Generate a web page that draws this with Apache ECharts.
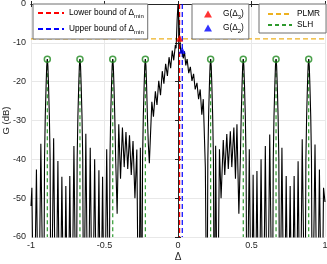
<!DOCTYPE html>
<html><head><meta charset="utf-8">
<script src="https://cdn.jsdelivr.net/npm/echarts@6/dist/echarts.min.js"></script>
<style>html,body{margin:0;padding:0;background:#fff}#c{width:327px;height:264px}</style>
</head><body><div id="c"></div>
<script>
// ---- data ----
const delta = [
 -1.000,-0.994,-0.981,-0.963,-0.949,-0.933,-0.914,
 -0.908,-0.903,-0.897,-0.893,-0.889,-0.885,-0.881,-0.875,-0.870,-0.864,
 -0.846,-0.832,-0.817,-0.803,-0.790,-0.775,-0.763,-0.749,-0.736,-0.723,-0.708,-0.692,
 -0.686,-0.681,-0.675,-0.671,-0.667,-0.663,-0.659,-0.653,-0.648,-0.642,
 -0.627,-0.612,-0.597,-0.582,-0.567,-0.552,-0.538,-0.526,-0.513,-0.500,-0.485,-0.469,
 -0.463,-0.458,-0.452,-0.448,-0.444,-0.440,-0.436,-0.430,-0.424,-0.414,
 -0.403,-0.391,-0.378,-0.366,-0.354,-0.342,-0.330,-0.318,-0.306,-0.293,-0.280,-0.268,-0.256,-0.247,
 -0.241,-0.236,-0.230,-0.226,-0.222,-0.218,-0.214,-0.208,-0.202,-0.195,
 -0.178,-0.167,-0.154,-0.143,-0.131,-0.119,-0.107,-0.096,-0.084,-0.072,-0.061,-0.050,-0.039,-0.029,-0.018,-0.013,-0.006,0.000,
 0.006,0.011,0.020,0.028,0.036,0.044,0.053,0.062,0.073,0.084,0.095,0.106,0.117,0.129,0.140,0.151,0.162,0.172,0.186,0.197,
 0.203,0.208,0.214,0.218,0.222,0.226,0.230,0.236,0.241,0.247,
 0.256,0.268,0.282,0.293,0.308,0.318,0.332,0.342,0.356,0.366,0.380,0.391,0.401,0.414,
 0.424,0.430,0.436,0.440,0.444,0.448,0.452,0.458,0.463,0.469,
 0.485,0.500,0.511,0.524,0.537,0.551,0.565,0.580,0.594,0.609,0.624,0.642,
 0.648,0.653,0.659,0.663,0.667,0.671,0.675,0.681,0.686,0.692,
 0.707,0.722,0.736,0.749,0.763,0.776,0.790,0.804,0.817,0.831,0.845,0.864,
 0.870,0.875,0.881,0.885,0.889,0.893,0.897,0.903,0.908,0.914,
 0.932,0.948,0.962,0.979,0.990,1.000
];
const gain = [
 -52,-47.3,-90,-42.6,-90,-36,-90,
 -40,-29,-20.5,-16,-14.2,-16,-20.5,-29,-40,-90,
 -34.6,-90,-40.4,-90,-44.5,-90,-46.9,-90,-44.3,-90,-36.6,-90,
 -40,-29,-20.5,-16,-14.2,-16,-20.5,-29,-40,-90,
 -33.4,-90,-37,-90,-40,-90,-42.8,-90,-44.5,-90,-37.4,-90,
 -40,-29,-20.5,-16,-14.2,-16,-20.5,-29,-40,-54,
 -31,-45,-31.8,-42,-33,-42.5,-33.8,-44,-35.3,-50,-37.5,-90,-37,-90,
 -40,-29,-20.5,-16,-14.2,-16,-20.5,-29,-36,-41,
 -25.2,-29,-22.5,-26,-19.8,-23.5,-17.3,-20.5,-15.4,-18.5,-13.7,-16.5,-12,-14.5,-10.6,-11.4,-4.2,0,
 -4.2,-8.8,-12.6,-11.9,-14,-12.2,-15.8,-14.2,-17.8,-16.2,-19.8,-18,-22,-20.3,-24.5,-22,-28.5,-24.5,-42,-90,
 -40,-29,-20.5,-16,-14.2,-16,-20.5,-29,-40,-90,
 -36.5,-90,-37.4,-50,-35,-44,-33.5,-42.5,-32.8,-42,-31.8,-45,-31,-54,
 -40,-29,-20.5,-16,-14.2,-16,-20.5,-29,-40,-90,
 -37.4,-90,-44,-90,-43,-90,-40,-90,-36.6,-90,-33.6,-90,
 -40,-29,-20.5,-16,-14.2,-16,-20.5,-29,-40,-90,
 -37,-90,-44.3,-90,-46.9,-90,-44.3,-90,-40.5,-90,-34.8,-90,
 -40,-29,-20.5,-16,-14.2,-16,-20.5,-29,-40,-90,
 -36.2,-90,-42.6,-90,-47.3,-51
];
const lobeDelta = [-0.889,-0.667,-0.444,-0.222,0.222,0.444,0.667,0.889];
const lobeGain  = [-14.2,-14.2,-14.2,-14.2,-14.2,-14.2,-14.2,-14.2];
const g3Point = [0.011, -8.8];
const g2Point = [0.028, -11.9];
const deltaMinLower = 0.011;
const deltaMinUpper = 0.029;
const plmrLevel = -9;
const legendLabels = {
  lower: '{t|Lower bound of Δ}{s|min}',
  upper: '{t|Upper bound of Δ}{s|min}',
  G3: '{g|}{t|G(Δ}{s|3}{t|)}',
  G2: '{g|}{t|G(Δ}{s|2}{t|)}',
  PLMR: '{t|PLMR}',
  SLH: '{t|SLH}'
};

const FONT = '"Liberation Sans", Arial, Helvetica, sans-serif';
const AX = '#262626';
const chart = echarts.init(document.getElementById('c'), null, {renderer: 'canvas'});

const curve = delta.map((d, i) => [d, gain[i]]);
const series = [];
lobeDelta.forEach((d, i) => series.push({
  name: 'SLH', type: 'line', data: [[d, lobeGain[i]], [d, -60]], symbol: 'none',
  lineStyle: {color: '#2e9a2e', width: 1.2, type: [4, 3]}, z: 3, silent: true, animation: false
}));
series.push({name: 'PLMR', type: 'line', data: [[-1, plmrLevel], [1, plmrLevel]], symbol: 'none',
  lineStyle: {color: '#EDB120', width: 1.2, type: [5, 3]}, z: 2, silent: true, animation: false});
series.push({name: 'lower', type: 'line', data: [[deltaMinLower, 0], [deltaMinLower, -60]], symbol: 'none',
  lineStyle: {color: '#ff0000', width: 1.2, type: [5, 3]}, z: 4, silent: true, animation: false});
series.push({name: 'upper', type: 'line', data: [[deltaMinUpper, 0], [deltaMinUpper, -60]], symbol: 'none',
  lineStyle: {color: '#0000ff', width: 1.2, type: [5, 3]}, z: 4, silent: true, animation: false});
series.push({name: 'G', type: 'line', data: curve, symbol: 'none', clip: true,
  lineStyle: {color: '#000', width: 1.1}, z: 5, silent: true, animation: false});
series.push({name: 'lobes', type: 'scatter', data: lobeDelta.map((d, i) => [d, lobeGain[i]]),
  symbol: 'circle', symbolSize: 6, itemStyle: {color: 'rgba(0,0,0,0)', borderColor: '#1f8a1f', borderWidth: 1.5},
  z: 6, silent: true, animation: false});
series.push({name: 'G3', type: 'scatter', data: [g3Point], symbol: 'triangle', symbolSize: 7,
  itemStyle: {color: '#ff0000'}, z: 7, silent: true, animation: false});
series.push({name: 'G2', type: 'scatter', data: [g2Point], symbol: 'triangle', symbolSize: 7,
  itemStyle: {color: '#0000ff'}, z: 7, silent: true, animation: false});

const rich = {
  t: {fontSize: 8.3, fontFamily: FONT, color: '#000', lineHeight: 12},
  s: {fontSize: 6, fontFamily: FONT, color: '#000', lineHeight: 6, verticalAlign: 'bottom'},
  g: {width: 6, lineHeight: 12}
};
function legendBase(extra) {
  return Object.assign({
    orient: 'vertical', selectedMode: false, backgroundColor: '#fff',
    borderColor: '#6e6e6e', borderWidth: 1, borderRadius: 0,
    formatter: n => legendLabels[n],
    textStyle: {fontFamily: FONT, fontSize: 8.3, color: '#000', rich: rich}
  }, extra);
}
const hideSym = {color: 'rgba(0,0,0,0)', borderWidth: 0, opacity: 0};

const option = {
  animation: false,
  backgroundColor: '#fff',
  grid: {left: 31, right: 2, top: 4, bottom: 27, containLabel: false, outerBoundsMode: 'none'},
  xAxis: [{
    type: 'value', min: -1, max: 1, interval: 0.5,
    name: 'Δ', nameLocation: 'middle', nameGap: 15, nameMoveOverlap: false,
    nameTextStyle: {fontFamily: FONT, fontSize: 10, color: AX},
    axisLine: {show: true, lineStyle: {color: AX, width: 1}},
    axisTick: {show: true, inside: true, length: 3, lineStyle: {color: AX}},
    axisLabel: {fontFamily: FONT, fontSize: 9, color: AX, margin: 4},
    splitLine: {show: true, lineStyle: {color: '#e8e8e8', width: 1}}
  }, {
    type: 'value', min: -1, max: 1, interval: 0.5, position: 'top',
    axisLine: {show: true, lineStyle: {color: AX, width: 1}},
    axisTick: {show: true, inside: true, length: 3, lineStyle: {color: AX}},
    axisLabel: {show: false}, splitLine: {show: false}
  }],
  yAxis: [{
    type: 'value', min: -60, max: 0, interval: 10,
    name: 'G (dB)', nameLocation: 'middle', nameGap: 20, nameMoveOverlap: false,
    nameTextStyle: {fontFamily: FONT, fontSize: 9.5, color: AX},
    axisLine: {show: true, lineStyle: {color: AX, width: 1}},
    axisTick: {show: true, inside: true, length: 3, lineStyle: {color: AX}},
    axisLabel: {fontFamily: FONT, fontSize: 9, color: AX, margin: 5},
    splitLine: {show: true, lineStyle: {color: '#e8e8e8', width: 1}}
  }, {
    type: 'value', min: -60, max: 0, interval: 10, position: 'right',
    axisLine: {show: true, lineStyle: {color: AX, width: 1}},
    axisTick: {show: true, inside: true, length: 3, lineStyle: {color: AX}},
    axisLabel: {show: false}, splitLine: {show: false}
  }],
  legend: [
    legendBase({data: ['lower', 'upper'], left: 33, top: 4, itemWidth: 26, itemHeight: 10,
      itemGap: 6, padding: [5, 4, 4, 4], itemStyle: hideSym}),
    legendBase({data: ['G3', 'G2'], left: 192, top: 4, itemWidth: 8, itemHeight: 7,
      itemGap: 4, padding: [6, 5, 5, 12], symbolKeepAspect: true}),
    legendBase({data: ['PLMR', 'SLH'], left: 259, top: 4, itemWidth: 24, itemHeight: 10,
      itemGap: 3, padding: [6, 6, 4, 8], itemStyle: hideSym})
  ],
  series: series
};
chart.setOption(option);
</script>
</body></html>
